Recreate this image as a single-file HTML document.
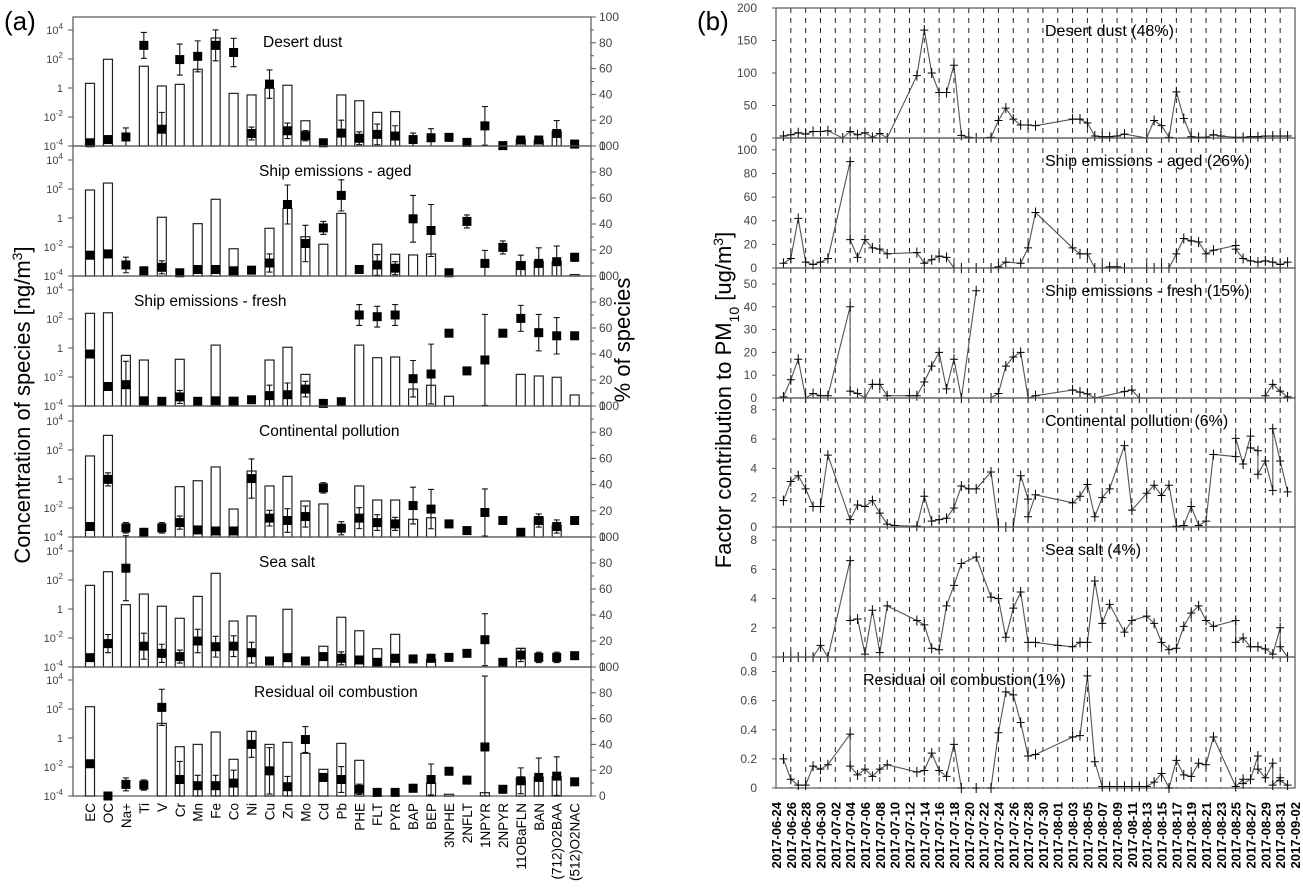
<!DOCTYPE html>
<html><head><meta charset="utf-8">
<style>
html,body{margin:0;padding:0;background:#fff;}
svg{display:block;font-family:"Liberation Sans",Arial,sans-serif;}
</style></head>
<body>
<svg id="chart" width="1303" height="894" viewBox="0 0 1303 894" xmlns="http://www.w3.org/2000/svg">
<text x="4" y="30" font-size="26">(a)</text>
<text x="697" y="30" font-size="26">(b)</text>
<text transform="translate(30,405) rotate(-90)" text-anchor="middle" font-size="22">Concentration of species [ng/m<tspan baseline-shift="super" font-size="14">3</tspan>]</text>
<text transform="translate(630,340) rotate(-90)" text-anchor="middle" font-size="22">% of species</text>
<text transform="translate(731,400) rotate(-90)" text-anchor="middle" font-size="22">Factor contribution to PM<tspan baseline-shift="sub" font-size="14">10</tspan> [ug/m<tspan baseline-shift="super" font-size="14">3</tspan>]</text>
<g id="ga"></g>
<g id="gb"></g>
</svg>
<script>
// ---------- Panel (a) data ----------
const species = ["EC","OC","Na+","Ti","V","Cr","Mn","Fe","Co","Ni","Cu","Zn","Mo","Cd","Pb","PHE","FLT","PYR","BAP","BEP","3NPHE","2NFLT","1NPYR","2NPYR","11OBaFLN","BAN","(712)O2BAA","(512)O2NAC"];
const factorNames = ["Desert dust","Ship emissions - aged","Ship emissions - fresh","Continental pollution","Sea salt","Residual oil combustion"];
const logTickLabels = ["10^4","10^2","1","10^-2","10^-4"];
const logTickValues = [4,2,0,-2,-4];
const pctTicks = [0,20,40,60,80,100];
// bars: log10 concentration (null = no bar)
const barDust = [0.32,1.98,null,1.5,0.14,0.25,1.29,3.45,-0.37,-0.48,-0.02,0.19,-2.26,null,-0.48,-0.88,-1.68,-1.63,null,null,null,null,null,null,-3.53,-3.6,-3.0,null];
const barAged = [1.93,2.41,null,null,0.05,null,-0.39,1.29,-2.12,null,-0.71,0.67,-1.29,-1.81,0.32,null,-1.81,-2.5,-2.55,-2.48,null,null,null,null,-3.01,-3.0,-3.0,-3.9];
const barFresh = [2.39,2.43,-0.51,-0.83,null,-0.78,null,0.2,-3.4,null,-0.83,0.05,-1.82,null,null,0.2,-0.67,-0.62,-2.83,-2.57,-3.33,null,null,null,-1.82,-1.93,-2.02,-3.24];
const barCont = [1.59,3.01,null,null,null,-0.53,-0.12,0.83,-2.07,0.55,-0.48,0.18,-1.52,-1.72,null,-0.48,-1.45,-1.45,-2.78,-2.67,null,null,null,null,null,-2.64,-3.2,null];
const barSea = [1.63,2.57,0.3,1.03,0.19,-0.64,0.87,2.46,-0.83,-0.48,null,-0.02,null,-2.57,-0.57,-1.5,-2.74,-1.75,null,-3.47,null,null,null,null,-2.71,null,null,null];
const barResid = [2.16,null,null,null,1.01,-0.6,-0.44,0.41,-1.47,0.46,-0.44,-0.3,-1.06,-2.16,-0.37,-1.54,null,null,null,-3.12,-3.88,null,-3.77,null,-2.78,-2.7,-2.67,null];
// squares: % of species, with error
const pctDust = [2.5,5,7,78,13,67,69.5,78,72.5,9.7,48,11.8,8,2.5,10,6,9,7.7,5,6.4,6.7,2.8,15.6,0.3,4.6,4.6,9.7,1.5];
const errDust = [0,2,7,10,13,12,12,12,11,5,11,6,4,0,10,5,8,8,5,7,0,0,15,0,3,3,10,0];
const pctAged = [16,17,8.5,4,6.7,2.5,5,5,4,4.5,10,55,25,37,62,5,8.5,6,44,35,2.5,42,9.7,22,8,9.7,11,14.4];
const errAged = [2,3,6,0,5,0,0,0,0,0,7,15,14,5,12,3,8,5,18,20,0,5,10,5,8,12,12,3];
const pctFresh = [40,15,16.4,4,3.6,7,3.6,4,3.6,4.8,8,8.7,13,2,3.3,70,68.7,70,21,24.6,56,27,35.4,56,67.4,56.4,54,54];
const errFresh = [0,2,18,0,0,5,0,0,0,0,8,9,6,0,0,8,8,8,14,23,2,0,35,2,10,14,14,2];
const pctCont = [8,44,7,3.6,7,11,5.4,4.6,4.6,44.6,14.4,12.6,15.6,37.5,6.7,14.4,11,10,24,21.3,10,4.9,18.7,12.6,3.6,12.6,8,12.6];
const errCont = [0,5,4,0,4,5,2,0,0,15,6,9,8,4,5,8,6,5,14,15,0,0,18,0,0,5,5,3];
const pctSea = [7.2,18,76,16,10.5,8,20,15.6,16,11,4.6,7.2,4.6,8,6.7,5.4,3.6,6.7,6.2,6.7,7.4,10.5,21,3.6,9.2,7.4,7.4,8.7];
const errSea = [0,7,25,10,7,5,9,8,8,8,0,0,0,0,5,2,0,3,2,3,0,0,20,0,5,4,4,0];
const pctResid = [25,0,9,8.5,68.7,12.8,8,8,10,40,19.5,7.2,43.8,14.4,12.8,5.2,2.8,2.8,6,12.8,19.2,12.3,38,5.2,11.8,14.4,15.4,11];
const errResid = [2,0,5,4,14,14,8,8,10,10,18,8,10,3,10,4,0,0,3,12,2,2,55,0,10,15,15,0];

// ---------- Panel (b) data ----------
const seriesNames = ["Desert dust (48%)","Ship emissions - aged (26%)","Ship emissions - fresh (15%)","Continental pollution (6%)","Sea salt (4%)","Residual oil combustion(1%)"];
const ymaxB = [200,110,57,8.8,8.9,0.9];
const ticksB1 = [0,50,100,150,200];
const ticksB2 = [0,20,40,60,80,100];
const ticksB3 = [0,10,20,30,40,50];
const ticksB4 = [0,2,4,6,8];
const ticksB5 = [0,2,4,6,8];
const ticksB6 = [0,0.2,0.4,0.6,0.8];
// days since 2017-06-24
const daysDust = [1,2,3,4,5,6,7,9,10,11,12,13,14,15,19,20,21,22,23,24,25,26,27,29,30,31,32,33,34,35,40,41,42,43,44,45,46,47,50,51,52,53,54,55,56,57,58,59,60,62,63,64,65,66,67,68,69];
const valsDust = [3,5,8,6,10,10,11,0,10,5,8,1,7,0,96,166,100,70,70,112,4,1,0,1,27,46,29,20,20,19,29,29,23,3,2,2,3,6,0,27,19,1,71,30,2,1,1,5,3,1,1,2,2,3,3,3,3];
const daysAged = [1,2,3,4,5,6,7,10,10,11,12,13,14,15,19,20,21,22,23,24,25,27,29,30,31,33,34,35,40,41,42,43,44,45,46,47,50,51,52,53,54,55,56,57,58,59,62,62,63,64,65,66,67,68,69];
const valsAged = [4,8,42,5,3,5,8,90,24,9,24,17,16,12,13,4,7,10,9,0,0,0,0,1,5,4,17,47,17,12,12,0,0,1,1,0,0,0,0,0,12,25,23,22,12,15,19,16,8,6,5,6,5,3,5];
const daysFresh = [1,2,3,4,5,6,7,10,10,11,12,13,14,15,18,19,20,21,22,23,24,25,27,28,29,30,31,32,33,34,35,40,41,42,43,47,48,49,55,66,67,68,69];
const valsFresh = [0.5,8,17,0,2,1,1,40,3,2,0,6,6,1,1,1,7,14,20,4,17,0,47,null,0,2,14,18,20,0,1,3.5,2.6,1.8,0,2.8,3.5,0,null,1,6,3,0.5];
const daysCont = [1,2,3,4,5,6,7,10,11,12,13,14,15,16,19,20,21,22,23,24,25,26,27,29,30,31,32,33,34,34,35,40,41,42,43,44,45,47,48,50,51,52,53,54,55,56,57,58,59,62,62,63,64,64,65,65,66,67,67,68,69];
const valsCont = [1.8,3.1,3.5,2.6,1.4,1.4,4.9,0.5,1.5,1.4,1.8,0.95,0.2,0.1,0.05,2.1,0.4,0.5,0.6,1.3,2.8,2.6,2.6,3.75,0,0,0,3.5,1.9,0.7,2.2,1.65,2.1,2.9,0.7,2.0,2.6,5.55,1.15,2.3,2.85,2.15,2.85,0.05,0.1,1.4,0.1,0.4,4.95,4.8,6.05,4.3,6.2,5.4,5.2,3.6,4.5,2.5,6.7,4.5,2.4];
const daysSea = [1,2,3,4,5,6,7,10,10,11,12,13,14,15,19,20,21,22,23,24,25,27,29,30,31,32,33,34,35,38,40,41,42,43,44,45,47,48,50,51,52,53,54,55,56,57,58,59,62,62,63,64,65,66,67,68,68,69];
const valsSea = [0,0,0,0,0,0.8,0,6.6,2.5,2.6,0.2,3.2,0.3,3.5,2.5,2.2,0.6,0.5,3.5,4.9,6.4,6.85,4.1,4.0,1.35,3.35,4.45,1.0,1.0,0.8,0.7,1.0,1.0,5.2,2.3,3.6,1.7,2.5,2.8,2.3,1.0,0.5,0.6,2.1,3.0,3.5,2.5,2.1,2.5,1.0,1.3,0.7,0.7,0.55,0.2,2.0,0.7,0];
const daysResid = [1,2,3,4,5,6,7,10,10,11,12,13,14,15,19,20,21,22,23,24,25,27,29,30,31,32,33,34,35,40,41,42,43,44,45,46,47,48,49,50,51,52,53,54,55,56,57,58,59,62,63,63,64,65,65,66,67,67,68,68,69];
const valsResid = [0.2,0.06,0.02,0.02,0.15,0.13,0.16,0.37,0.15,0.09,0.13,0.08,0.13,0.16,0.11,0.12,0.24,0.12,0.08,0.3,0,0,0,0.38,0.66,0.64,0.45,0.22,0.23,0.35,0.36,0.77,0.18,0.01,0.01,0.01,0.01,0.01,0.01,0.01,0.04,0.1,0,0.19,0.09,0.08,0.17,0.16,0.35,0.01,0.06,0.03,0.06,0.22,0.13,0.07,0.17,0.02,0.07,0.05,0.02];
const dateTickDays = [0,2,4,6,8,10,12,14,16,18,20,22,24,26,28,30,32,34,36,38,40,42,44,46,48,50,52,54,56,58,60,62,64,66,68,70];

const NS = "http://www.w3.org/2000/svg";
function mk(parent, tag, attrs){
  const e = document.createElementNS(NS, tag);
  for (const k in attrs) e.setAttribute(k, attrs[k]);
  parent.appendChild(e);
  return e;
}
function supText(parent, x, y, lab){
  const t = mk(parent, "text", {x:x, y:y, "text-anchor":"end", "font-size":"11", fill:"#444"});
  
  
  if (lab.indexOf("^") >= 0){
    const p = lab.split("^");
    t.appendChild(document.createTextNode(p[0]));
    const s = mk(t, "tspan", {dy:"-5", "font-size":"8"});
    s.textContent = p[1];
  } else t.textContent = lab;
}

// ---------- draw panel (a) ----------
const ga = document.getElementById("ga");
const aLeft = 73, aRight = 591;
const aTops = [17,146,276,406,537,667];
const aBots = [146,276,406,537,667,796];
const barsA = [barDust,barAged,barFresh,barCont,barSea,barResid];
const pctsA = [pctDust,pctAged,pctFresh,pctCont,pctSea,pctResid];
const errsA = [errDust,errAged,errFresh,errCont,errSea,errResid];
const titleXA = [263,259,134,259,259,254];
function xCat(i){ return 90 + 17.95*i; }
for (let p=0;p<6;p++){
  const top=aTops[p], bot=aBots[p];
  const yLog = v => bot - (v+4)*14.5;
  const yPct = v => bot - v*(bot-top)/100;
  const g = mk(ga, "g", {});
  
  
  const fr = mk(g, "rect", {x:aLeft, y:top, width:aRight-aLeft, height:bot-top, fill:"none", stroke:"#555", "stroke-width":"1.2"});
  
  
  for (let k=0;k<logTickValues.length;k++){
    const y = yLog(logTickValues[k]);
    const tk = mk(g, "line", {x1:aLeft-5, x2:aLeft, y1:y, y2:y, stroke:"#555"});
    
    
    supText(g, 63, y+4, logTickLabels[k]);
  }
  for (let v=0; v<=100; v+=10){
    const y = yPct(v);
    const tk = mk(g, "line", {x1:aRight, x2:aRight+(v%20===0?5:3), y1:y, y2:y, stroke:"#555"});
    
    
  }
  for (const v of pctTicks){
    const t = mk(g, "text", {x:599, y:yPct(v)+4, "font-size":"12", fill:"#444"});
    t.textContent = v;
    
    
  }
  const tt = mk(g, "text", {x:titleXA[p], y:top+30, "font-size":"15.5", fill:"#000"});
  tt.textContent = factorNames[p];
  
  
  const bars = barsA[p], pcts = pctsA[p], errs = errsA[p];
  for (let i=0;i<species.length;i++){
    const x = xCat(i);
    if (bars[i] !== null){
      const y = yLog(bars[i]);
      const b = mk(g, "rect", {x:x-4.5, y:y, width:9, height:bot-y, fill:"#fff", stroke:"#222", "stroke-width":"1.2"});
      
      
    }
  }
  for (let i=0;i<species.length;i++){
    const x = xCat(i);
    const y = yPct(pcts[i]);
    if (errs[i] > 0){
      const y1 = yPct(pcts[i]+errs[i]), y2 = yPct(Math.max(0,pcts[i]-errs[i]));
      const eb = mk(g, "path", {d:`M${x},${y1}V${y2}M${x-3},${y1}H${x+3}M${x-3},${y2}H${x+3}`, stroke:"#111", "stroke-width":"1.1", fill:"none"});
      
      
    }
    const s = mk(g, "rect", {x:x-4.5, y:y-4.5, width:9, height:9, fill:"#000"});
    
    
  }
}
for (let i=0;i<species.length;i++){
  const x = xCat(i);
  const t = mk(ga, "text", {transform:`translate(${x+5},803) rotate(-90)`, "text-anchor":"end", "font-size":"13.5", fill:"#000"});
  t.textContent = species[i];
  
  
}

// ---------- draw panel (b) ----------
const gb = document.getElementById("gb");
const bLeft = 776, bRight = 1295;
const bTops = [8,138,268,398,527,657];
const bBots = [138,268,398,527,657,788];
const ticksB = [ticksB1,ticksB2,ticksB3,ticksB4,ticksB5,ticksB6];
const daysB = [daysDust,daysAged,daysFresh,daysCont,daysSea,daysResid];
const valsB = [valsDust,valsAged,valsFresh,valsCont,valsSea,valsResid];
const titleXB = [1045,1045,1045,1045,1045,863];
const xDay = d => bLeft + d*(bRight-bLeft)/70;
for (let p=0;p<6;p++){
  const top=bTops[p], bot=bBots[p];
  const yV = v => bot - v*(bot-top)/ymaxB[p];
  const g = mk(gb, "g", {});
  
  
  for (const d of dateTickDays){
    if (d===0 || d===70) continue;
    const gl = mk(g, "line", {x1:xDay(d), x2:xDay(d), y1:top, y2:bot, stroke:"#222", "stroke-width":"1", "stroke-dasharray":"5,5"});
    
    
  }
  const fr = mk(g, "rect", {x:bLeft, y:top, width:bRight-bLeft, height:bot-top, fill:"none", stroke:"#555", "stroke-width":"1.2"});
  
  
  for (const v of ticksB[p]){
    const y = yV(v);
    const tk = mk(g, "line", {x1:bLeft-4, x2:bLeft, y1:y, y2:y, stroke:"#555"});
    
    
    const t = mk(g, "text", {x:757, y:y+4, "text-anchor":"end", "font-size":"12", fill:"#444"});
    t.textContent = v;
    
    
  }
  const tt = mk(g, "text", {x:titleXB[p], y:top+28, "font-size":"16", fill:"#000"});
  tt.textContent = seriesNames[p];
  
  
  const ds = daysB[p], vs = valsB[p];
  let path = "", pen = false;
  for (let i=0;i<ds.length;i++){
    if (vs[i] === null){ pen = false; continue; }
    path += (pen ? "L" : "M") + xDay(ds[i]).toFixed(1) + "," + yV(vs[i]).toFixed(1);
    pen = true;
  }
  const ln = mk(g, "path", {d:path, fill:"none", stroke:"#555", "stroke-width":"1.1"});
  
  
  for (let i=0;i<ds.length;i++){
    if (vs[i] === null) continue;
    const x = xDay(ds[i]), y = yV(vs[i]);
    const m = mk(g, "path", {d:`M${x-4},${y}H${x+4}M${x},${y-5}V${y+5}`, stroke:"#000", "stroke-width":"1"});
    
    
  }
}
for (const d of dateTickDays){
  const dt = new Date(Date.UTC(2017,5,24+d));
  const lab = dt.getUTCFullYear()+"-"+String(dt.getUTCMonth()+1).padStart(2,"0")+"-"+String(dt.getUTCDate()).padStart(2,"0");
  const t = mk(gb, "text", {transform:`translate(${xDay(d)+5},802) rotate(-90)`, "text-anchor":"end", "font-size":"13", "font-weight":"bold", fill:"#000"});
  t.textContent = lab;
  
  
}
</script>
</body></html>
